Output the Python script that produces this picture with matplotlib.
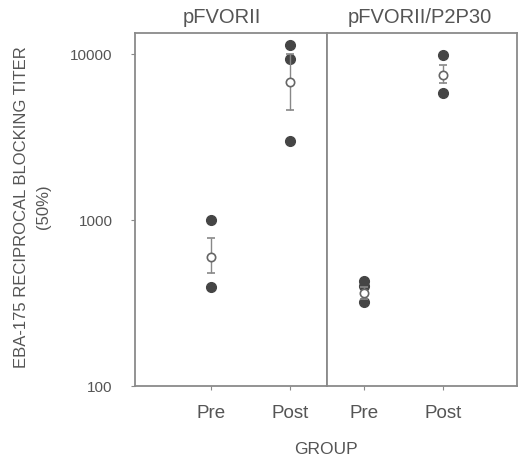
import matplotlib
matplotlib.use("Agg")
import matplotlib.pyplot as plt

plt.rcParams['font.family'] = ['Liberation Sans', 'DejaVu Sans']

panels = ["pFVORII", "pFVORII/P2P30"]
groups = ["Pre", "Post"]

# individual titers per panel, per group
ind_left_pre = [1000, 395]
ind_left_post = [11300, 9330, 2990]
ind_right_pre = [430, 400, 321]
ind_right_post = [9860, 5820]

# means and error limits (low, high)
mean_left = [598, 6770]
low_left = [480, 4600]
high_left = [779, 9960]
mean_right = [363, 7470]
low_right = [335, 6690]
high_right = [393, 8600]

txt = '#555555'
spine = '#8a8a8a'
dot = '#454545'

fig = plt.figure(figsize=(5.19, 4.58), dpi=100)
axL = fig.add_axes([135/519, 1-386/458, 192/519, 353/458])
axR = fig.add_axes([327/519, 1-386/458, 190/519, 353/458], sharey=axL)

def draw(ax, pre, post, mean, low, high, title, xlim, tx):
    for i, vals in enumerate([pre, post]):
        ax.plot([i]*len(vals), vals, 'o', color=dot, ms=7, mec=dot, zorder=3)
    for i in range(2):
        ax.errorbar(i, mean[i], yerr=[[mean[i]-low[i]], [high[i]-mean[i]]],
                    fmt='o', ms=6, mfc='white', mec='#666666', mew=1.2,
                    ecolor='#888888', elinewidth=1, capsize=3, zorder=4)
    ax.set_xlim(*xlim)
    ax.set_xticks([0, 1])
    ax.set_xticklabels(groups, color=txt, fontsize=13.5)
    ax.set_title(title, color=txt, fontsize=14.5, pad=7, x=tx)
    for s in ax.spines.values():
        s.set_color(spine)
        s.set_linewidth(1.3)
    ax.tick_params(axis='x', colors=spine, labelcolor=txt, length=3, pad=11)

draw(axL, ind_left_pre, ind_left_post, mean_left, low_left, high_left, panels[0], (-0.962, 1.468), 0.45)
draw(axR, ind_right_pre, ind_right_post, mean_right, low_right, high_right, panels[1], (-0.468, 1.937), 0.49)

axL.set_yscale('log')
axL.set_ylim(100, 13400)
axL.set_yticks([100, 1000, 10000])
axL.set_yticklabels(['100', '1000', '10000'], color=txt, fontsize=11)
axL.yaxis.set_minor_locator(matplotlib.ticker.NullLocator())
axL.tick_params(axis='y', which='both', colors=spine, labelcolor=txt, length=3, pad=13)
axR.tick_params(axis='y', which='both', left=False, labelleft=False)
axR.yaxis.set_minor_locator(matplotlib.ticker.NullLocator())

fig.text(22/519, 1-207/458, "EBA-175 RECIPROCAL BLOCKING TITER", color=txt, fontsize=12,
         rotation=90, ha='center', va='center')
fig.text(43/519, 1-207/458, "(50%)", color=txt, fontsize=12,
         rotation=90, ha='center', va='center')
fig.text(326/519, 1-450/458, "GROUP", color=txt, fontsize=12.5, ha='center', va='center')

fig.savefig("out.png", dpi=100)
